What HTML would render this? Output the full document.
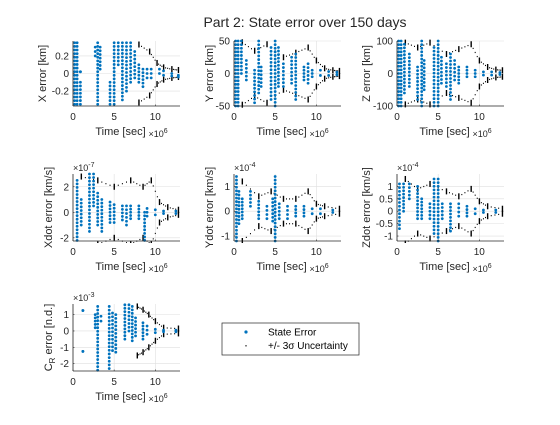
<!DOCTYPE html>
<html><head><meta charset="utf-8"><style>
body{margin:0;background:#fff}
svg{font-family:"Liberation Sans",sans-serif}
</style></head><body>
<svg id="fig" width="560" height="420" viewBox="0 0 560 420">
<rect width="560" height="420" fill="#fff"/>
<text x="305" y="27" font-size="14" text-anchor="middle" fill="#262626">Part 2: State error over 150 days</text>
<g id="panels"></g>
<g>
<rect x="222" y="323" width="137" height="32" fill="#fff" stroke="#262626" stroke-width="0.7"/>
<circle cx="246" cy="332" r="1.6" fill="#0072BD"/>
<text x="268" y="335.5" font-size="10" fill="#000">State Error</text>
<rect x="245.5" y="345" width="1" height="1.5" fill="#000"/>
<text x="268" y="349" font-size="10" fill="#000">+/- 3σ Uncertainty</text>
</g>
</svg>
<script>
// panel data: stripes [t(1e6 s), lo, hi], sigma [t, 3sigma]
const xStripes=[[0.2,-0.35,0.35],[0.5,-0.35,0.35],[0.9,-0.35,-0.1],[0.9,0.02,0.02],[2.7,0.2,0.3],[3.0,-0.35,0.35],[3.3,0.05,0.3],[4.5,-0.35,-0.1],[5.0,-0.35,0.35],[5.5,0.1,0.35],[6.0,-0.3,0.35],[6.5,-0.2,0.35],[7.0,-0.1,0.35],[7.5,-0.05,0.25],[8.0,-0.1,0.1],[8.5,-0.15,0.05],[9.0,-0.05,0.05],[9.5,-0.05,0.05],[10.5,0,0.05],[11,-0.02,0.03],[12,-0.03,0],[12.8,-0.04,-0.02]];
const xSigma=[[8,0.33],[9.3,0.25],[10.2,0.12],[11,0.07],[12,0.05],[12.8,0.04]];
const yStripes=[[0.2,-50,50],[0.5,-50,50],[0.9,0,50],[1.5,-10,20],[2.5,-45,5],[3.0,-30,50],[3.3,-20,10],[4.5,-40,40],[5.0,-50,50],[5.4,-20,40],[6.0,-20,15],[7.0,-15,25],[7.5,-40,30],[8.5,-10,10],[9.0,-15,15],[9.5,-5,5],[10.5,-3,5],[11.5,-3,3],[12.5,-2,2]];
const ySigma=[[1,48],[2.5,35],[4,45],[6,25],[7.5,32],[9,40],[10,20],[11,8],[12,5],[12.8,4]];
const zStripes=[[0.2,-100,100],[0.5,-100,100],[0.9,-60,90],[1.5,-40,60],[2.5,-80,20],[3.0,-100,100],[3.3,-50,40],[4.5,-100,80],[5.0,-100,100],[5.4,-30,50],[6.0,-40,30],[6.5,-80,60],[7.0,-20,40],[7.5,-30,20],[8.5,-10,20],[9.5,-10,10],[10.5,-5,5],[11.5,-5,5],[12.5,-3,3]];
const zSigma=[[1,95],[2.5,80],[4,95],[6,60],[7.5,75],[9,90],[10,40],[11,20],[12,12],[12.8,10]];
const xdStripes=[[0.5,-2.2,2.5],[1.0,-1,1],[2.0,-1.5,3],[2.5,0.5,3],[3.0,-1,1.5],[3.5,-1.5,1],[4.5,-0.8,0.8],[5.0,-0.8,0.6],[6.0,-0.6,0.5],[6.5,-1,0.5],[7.0,-0.5,0.5],[8.0,-0.5,0.5],[8.7,-2.2,0],[9.0,-0.3,0.3],[10,-0.2,0.2],[11,-0.1,0.1],[12.5,-0.1,0.1]];
const xdSigma=[[1,2.8],[3,2.5],[5,2.0],[7,2.5],[8.5,2.0],[9.5,2.5],[10.5,0.8],[11.5,0.4],[12.8,0.2]];
const ydStripes=[[0.3,-1.2,1.4],[0.6,-0.5,0.8],[1.0,-0.3,0.5],[2.0,0.2,0.8],[3.0,-0.3,0.4],[4.0,-0.3,0.2],[4.7,-0.4,0.5],[5.0,-1.2,1.4],[5.5,-0.3,0.3],[6.5,-0.3,0.2],[7.5,-0.2,0.2],[8.5,-0.2,0.2],[9.5,-0.1,0.1],[10.5,-0.1,0.1],[12,-0.05,0.05]];
const ydSigma=[[1,1.2],[3,0.6],[4.5,0.8],[6,0.5],[7.5,0.5],[9,0.8],[10,0.3],[11,0.2],[12.8,0.1]];
const zdStripes=[[0.3,-0.7,1.1],[0.8,0,1.1],[1.5,0.5,1.1],[2.5,-0.3,1.0],[3.0,-0.3,0.5],[4.0,-0.3,0.3],[4.5,-0.9,1.3],[5.0,-1.2,1.3],[5.5,-0.3,0.3],[6.5,-0.8,0.3],[7.5,-0.2,0.3],[8.5,-0.2,0.2],[9.5,-0.1,0.1],[10.5,-0.05,0.05],[12,-0.05,0.05]];
const zdSigma=[[1,1.3],[2.5,0.9],[4,1.1],[6,0.8],[7.5,0.6],[9,0.9],[10,0.4],[11,0.2],[12.8,0.1]];
const crStripes=[[1.2,1.25,1.25],[1.2,-1.25,-1.25],[2.7,0.2,1],[3.0,-2.4,1.5],[3.4,0.6,0.9],[4.4,-2.3,1.5],[4.8,-1.2,1.1],[5.2,-1.3,1.0],[6.3,-0.5,1.6],[6.8,0,1.6],[7.2,-0.6,1.5],[7.6,-0.3,0.8],[8.5,-0.5,0.5],[9.0,-0.2,0.3],[10,-0.1,0.1],[11,-0.05,0.05],[12.5,-0.05,0.05]];
const crSigma=[[7.8,1.5],[8.5,1.3],[9.2,1.0],[10,0.6],[11,0.2],[12.8,0.15]];

const panels=[
 {n:'x-error',x0:73,y0:41,h:65,ymin:-0.37,ymax:0.37,ticks:[-0.2,0,0.2],tl:['-0.2','0','0.2'],lab:'X error [km]',exp:null,s:xStripes,g:xSigma},
 {n:'y-error',x0:234,y0:41,h:65,ymin:-50,ymax:50,ticks:[-50,0,50],tl:['-50','0','50'],lab:'Y error [km]',exp:null,s:yStripes,g:ySigma},
 {n:'z-error',x0:397,y0:41,h:65,ymin:-100,ymax:100,ticks:[-100,0,100],tl:['-100','0','100'],lab:'Z error [km]',exp:null,s:zStripes,g:zSigma},
 {n:'xdot-error',x0:73,y0:174,h:67,ymin:-2.25,ymax:3,ticks:[-2,0,2],tl:['-2','0','2'],lab:'Xdot error [km/s]',exp:'-7',s:xdStripes,g:xdSigma},
 {n:'ydot-error',x0:234,y0:174,h:67,ymin:-1.2,ymax:1.5,ticks:[-1,0,1],tl:['-1','0','1'],lab:'Ydot error [km/s]',exp:'-4',s:ydStripes,g:ydSigma},
 {n:'zdot-error',x0:397,y0:174,h:67,ymin:-1.2,ymax:1.5,ticks:[-1,-0.5,0,0.5,1],tl:['-1','-0.5','0','0.5','1'],lab:'Zdot error [km/s]',exp:'-4',s:zdStripes,g:zdSigma},
 {n:'cr-error',x0:73,y0:304,h:67,ymin:-2.45,ymax:1.65,ticks:[-2,-1,0,1],tl:['-2','-1','0','1'],lab:'CR',exp:'-3',s:crStripes,g:crSigma}
];
const xTicks=[0,5,10];
const NS='http://www.w3.org/2000/svg';
function mk(t,a,p){const e=document.createElementNS(NS,t);for(const k in a)e.setAttribute(k,a[k]);p.appendChild(e);return e;}
const root=document.getElementById('panels');
const W=107,XMAX=13;
panels.forEach((p,i)=>{
 const g=mk('g',{},root);
 
 
 const sx=t=>p.x0+t/XMAX*W, sy=v=>p.y0+p.h-(v-p.ymin)/(p.ymax-p.ymin)*p.h;
 const cid='c'+i;
 const cp=mk('clipPath',{id:cid},g);mk('rect',{x:p.x0,y:p.y0-2,width:W+2,height:p.h+4},cp);
 p.ticks.forEach(v=>mk('line',{x1:p.x0,x2:p.x0+W,y1:sy(v),y2:sy(v),stroke:'#dfdfdf','stroke-width':0.6},g));
 xTicks.forEach(t=>mk('line',{x1:sx(t),x2:sx(t),y1:p.y0,y2:p.y0+p.h,stroke:'#dfdfdf','stroke-width':0.6},g));
 const d=mk('g',{'clip-path':'url(#'+cid+')'},g);
 p.g.forEach(([t,s])=>{[s,-s].forEach(v=>{
   const r=mk('rect',{x:sx(t)-0.6,y:sy(v)-3,width:1.4,height:6,fill:'#000'},d);
   
   
 });});
 for(let k=0;k<p.g.length-1;k++){const [t1,s1]=p.g[k],[t2,s2]=p.g[k+1];
  for(let j=1;j<4;j++){const t=t1+(t2-t1)*j/4,s=s1+(s2-s1)*j/4;[s,-s].forEach(v=>mk('rect',{x:sx(t)-0.5,y:sy(v)-0.5,width:1,height:1.2,fill:'#000'},d));}}
 p.s.forEach(([t,lo,hi])=>{
   const y1=sy(hi),y2=sy(lo);const n=Math.max(1,Math.round((y2-y1)/3.6));
   for(let j=0;j<=n;j++){
     const c=mk('circle',{cx:sx(t),cy:y1+(y2-y1)*j/Math.max(n,1),r:1.4,fill:'#0072BD'},d);
     
     
   }
 });
 mk('line',{x1:p.x0,x2:p.x0,y1:p.y0,y2:p.y0+p.h,stroke:'#262626','stroke-width':0.8},g);
 mk('line',{x1:p.x0,x2:p.x0+W,y1:p.y0+p.h,y2:p.y0+p.h,stroke:'#262626','stroke-width':0.8},g);
 p.ticks.forEach((v,k)=>{mk('line',{x1:p.x0,x2:p.x0+1.5,y1:sy(v),y2:sy(v),stroke:'#262626','stroke-width':0.6},g);
   const tx=mk('text',{x:p.x0-4,y:sy(v)+3.5,'font-size':10,'text-anchor':'end',fill:'#262626'},g);tx.textContent=p.tl[k];});
 xTicks.forEach(t=>{mk('line',{x1:sx(t),x2:sx(t),y1:p.y0+p.h,y2:p.y0+p.h-1.5,stroke:'#262626','stroke-width':0.6},g);
   const tx=mk('text',{x:sx(t),y:p.y0+p.h+14,'font-size':10,'text-anchor':'middle',fill:'#262626'},g);tx.textContent=t;});
 const xl=mk('text',{x:p.x0+W/2-6,y:p.y0+p.h+29,'font-size':11,'text-anchor':'middle',fill:'#262626'},g);
 
 
 xl.textContent='Time [sec]';
 const xe=mk('text',{x:p.x0+W/2+22,y:p.y0+p.h+31,'font-size':9,fill:'#262626'},g);
 xe.innerHTML='×10<tspan dy="-4" font-size="7">6</tspan>';
 const yl=mk('text',{transform:`translate(${p.x0-(p.tl.some(s=>s.length>3)?27:21)},${p.y0+p.h/2}) rotate(-90)`,'font-size':11,'text-anchor':'middle',fill:'#262626'},g);
 
 
 if(p.lab==='CR') yl.innerHTML='C<tspan dy="3" font-size="8">R</tspan><tspan dy="-3"> error [n.d.]</tspan>';
 else yl.textContent=p.lab;
 if(p.exp){const ex=mk('text',{x:p.x0,y:p.y0-3,'font-size':9,fill:'#262626'},g);
   ex.innerHTML='×10<tspan dy="-4" font-size="7">'+p.exp+'</tspan>';}
});
</script>
</body></html>
